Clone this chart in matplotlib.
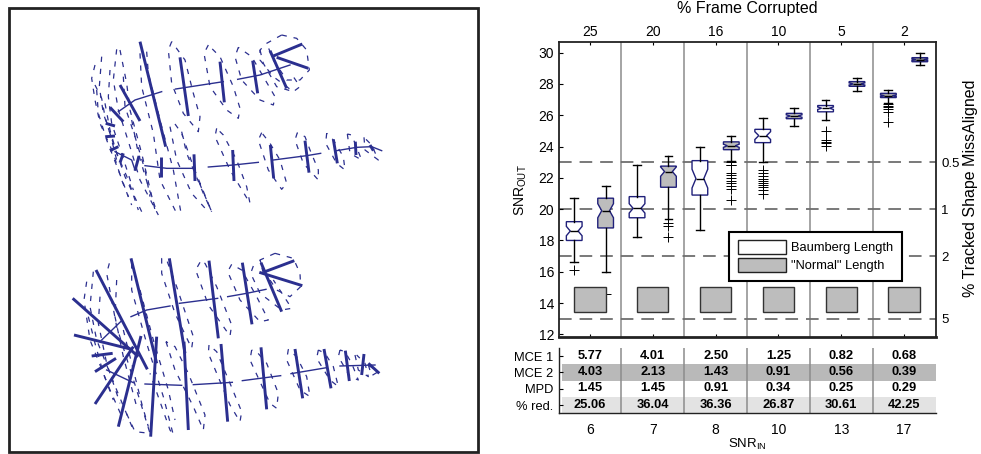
import matplotlib
matplotlib.use('Agg')
import matplotlib.pyplot as plt
from matplotlib.patches import Patch, Rectangle

plt.rcParams['font.family'] = ['Liberation Sans', 'DejaVu Sans']
plt.rcParams['mathtext.default'] = 'regular'

W, H = 981, 454
BLUE = '#2b2f8f'
DARK = '#222222'

# box stats, one per box, left to right
positions = [1, 2, 3, 4, 5, 6, 7, 8, 9, 10, 11, 12]
q1 = [18.0, 18.8, 19.45, 21.4, 20.9, 23.8, 24.25, 25.78, 26.22, 27.85, 27.13, 29.42]
med = [18.6, 19.9, 20.05, 22.4, 21.95, 24.05, 24.7, 25.95, 26.45, 28.0, 27.25, 29.55]
q3 = [19.2, 20.7, 20.8, 22.75, 23.1, 24.3, 25.1, 26.12, 26.62, 28.15, 27.4, 29.68]
whislo = [16.6, 16.0, 18.2, 19.4, 18.65, 23.1, 23.0, 25.3, 25.7, 27.55, 26.8, 29.2]
whishi = [20.7, 21.5, 22.8, 23.4, 24.0, 24.7, 25.8, 26.45, 26.95, 28.4, 27.6, 29.95]
notch_lo = [18.3, 19.45, 19.75, 22.1, 21.35, 23.95, 24.45, 25.87, 26.37, 27.93, 27.2, 29.5]
notch_hi = [18.9, 20.35, 20.35, 22.7, 22.55, 24.15, 24.95, 26.03, 26.53, 28.07, 27.3, 29.6]
fliers = [
    [16.1],
    [14.6],
    [],
    [19.1, 18.9, 18.2],
    [],
    [23.0, 22.8, 22.8, 22.3, 22.2, 22.0, 21.8, 21.7, 21.5, 21.3, 20.6],
    [22.5, 22.3, 22.1, 21.95, 21.8, 21.7, 21.55, 21.4, 21.25, 21.0],
    [],
    [25.0, 24.4, 24.3, 24.2, 24.05],
    [],
    [26.7, 26.6, 26.5, 26.4, 26.2, 25.6],
    [],
]
box_colors = ['white', '#bdbdbd', 'white', '#bdbdbd', 'white', '#bdbdbd',
              'white', '#bdbdbd', 'white', '#a8a8a8', '#a8a8a8', '#888888']

snr_in = ['6', '7', '8', '10', '13', '17']
frame_corrupted = ['25', '20', '16', '10', '5', '2']
group_centers = [1.5, 3.5, 5.5, 7.5, 9.5, 11.5]
group_edges = [2.5, 4.5, 6.5, 8.5, 10.5]
misaligned_pos = [23, 20, 17, 13]
misaligned_labels = ['0.5', '1', '2', '5']

row_labels = ['MCE 1', 'MCE 2', 'MPD', '% red.']
mce1 = ['5.77', '4.01', '2.50', '1.25', '0.82', '0.68']
mce2 = ['4.03', '2.13', '1.43', '0.91', '0.56', '0.39']
mpd = ['1.45', '1.45', '0.91', '0.34', '0.25', '0.29']
red = ['25.06', '36.04', '36.36', '26.87', '30.61', '42.25']

# shape outlines, in the pixels of the two crops (3x)
top_thick = [
    [(240, 65), (317, 380)], [(180, 195), (240, 303)], [(150, 262), (190, 305)],
    [(360, 112), (385, 288)], [(480, 125), (493, 247)], [(578, 122), (593, 220)],
    [(630, 92), (680, 205)], [(640, 108), (727, 72)], [(650, 112), (745, 145)],
    [(303, 412), (303, 472)], [(402, 403), (405, 483)], [(518, 390), (522, 483)],
    [(631, 375), (641, 475)], [(735, 362), (747, 458)], [(820, 358), (832, 430)],
    [(886, 365), (888, 405)], [(930, 375), (940, 392)], [(137, 310), (165, 318)],
    [(138, 350), (165, 348)], [(150, 392), (175, 380)], [(190, 400), (180, 428)],
    [(237, 408), (225, 452)],
]
top_thin = [
    [(175, 275), (225, 240), (305, 215)], [(347, 207), (490, 185)],
    [(533, 178), (600, 165), (690, 135)], [(255, 437), (320, 445), (405, 445)],
    [(445, 441), (520, 435), (595, 427)], [(640, 420), (740, 407), (782, 400)],
    [(830, 392), (890, 382), (935, 380), (965, 392)], [(165, 395), (215, 420), (225, 450)],
]
top_dashed = [
    [(105, 135), (95, 175), (105, 240), (120, 310), (160, 400), (185, 480), (215, 555)],
    [(125, 110), (118, 200), (130, 280), (160, 370), (195, 470), (245, 575)],
    [(150, 150), (145, 230), (155, 310), (185, 400), (220, 510)],
    [(170, 88), (160, 180), (175, 270), (210, 380), (240, 480), (295, 585)],
    [(180, 90), (200, 190), (210, 270), (245, 400), (285, 570)],
    [(240, 100), (245, 200), (280, 340), (300, 480), (350, 580)],
    [(260, 95), (265, 160), (300, 300), (340, 450), (365, 590)],
    [(105, 195), (125, 235), (135, 290), (150, 340), (170, 420)],
    [(110, 210), (115, 280), (140, 360), (175, 450), (205, 530)],
    [(135, 250), (150, 330), (170, 400), (205, 480), (235, 570)],
    [(190, 170), (195, 260), (225, 350), (255, 450), (270, 530)],
    [(215, 300), (235, 400), (265, 500), (290, 575)],
    [(330, 320), (350, 420), (395, 520), (440, 570)],
    [(365, 335), (380, 400), (430, 520), (455, 575)],
    [(335, 65), (325, 90), (335, 190), (370, 280), (415, 335), (420, 290), (400, 220), (375, 120), (335, 65)],
    [(445, 75), (432, 100), (450, 200), (500, 270), (535, 295), (540, 265), (520, 200), (480, 110), (445, 75)],
    [(535, 82), (525, 110), (545, 180), (600, 240), (640, 255), (645, 230), (610, 170), (575, 110), (535, 82)],
    [(600, 90), (610, 130), (650, 200), (700, 215)],
    [(665, 45), (620, 70), (600, 90), (600, 120), (640, 170), (700, 215), (720, 200), (700, 170)],
    [(665, 45), (710, 55), (740, 90), (748, 150), (720, 180), (680, 180), (640, 120), (620, 70)],
    [(345, 312), (365, 340), (400, 440), (455, 575), (440, 540), (410, 470)],
    [(470, 325), (465, 350), (510, 450), (570, 550), (560, 500), (530, 420), (490, 345), (470, 325)],
    [(605, 338), (595, 360), (625, 450), (665, 508), (680, 490), (660, 420), (630, 370), (605, 338)],
    [(712, 338), (705, 360), (730, 430), (775, 480), (775, 450), (750, 390), (735, 350), (712, 338)],
    [(800, 340), (797, 370), (830, 430), (855, 450), (850, 410), (820, 360), (800, 340)],
    [(862, 342), (870, 400), (905, 420), (885, 370), (875, 345), (862, 342)],
    [(912, 352), (915, 390), (955, 420), (935, 375), (912, 352)],
]
bottom_thick = [
    [(108, 120), (262, 418)], [(38, 205), (235, 380)], [(42, 315), (215, 358)],
    [(95, 378), (158, 370)], [(105, 425), (168, 385)], [(105, 522), (220, 350)],
    [(175, 590), (243, 318)], [(213, 85), (290, 400)], [(290, 320), (272, 620)],
    [(328, 85), (375, 370)], [(372, 335), (385, 600)], [(447, 92), (475, 325)],
    [(483, 342), (503, 575)], [(547, 98), (576, 283)], [(603, 98), (665, 245)],
    [(598, 127), (727, 167)], [(615, 125), (703, 92)], [(603, 352), (620, 538)],
    [(705, 357), (728, 505)], [(792, 357), (813, 475)], [(856, 362), (868, 453)],
    [(912, 372), (905, 435)], [(925, 400), (958, 430)],
]
bottom_thin = [
    [(213, 260), (260, 240), (330, 228)], [(358, 220), (473, 205)],
    [(503, 200), (560, 190), (618, 178)], [(125, 330), (185, 272)],
    [(255, 462), (365, 466)], [(400, 464), (517, 457)], [(547, 452), (662, 437)],
    [(693, 431), (800, 413)], [(840, 408), (945, 405)], [(140, 420), (220, 458)],
]
bottom_dashed = [
    [(80, 155), (72, 210), (90, 330), (150, 480), (190, 570)],
    [(100, 125), (90, 230), (110, 330), (170, 480), (220, 600)],
    [(120, 200), (115, 280), (140, 400), (180, 520)],
    [(85, 260), (105, 340), (130, 430), (160, 510)],
    [(148, 100), (140, 130), (170, 290), (230, 480), (270, 610), (225, 605), (190, 530)],
    [(170, 150), (165, 260), (190, 380), (230, 530)],
    [(190, 300), (215, 400), (245, 520), (265, 590)],
    [(215, 100), (215, 180), (260, 340), (310, 500), (340, 615), (330, 600), (270, 430)],
    [(240, 180), (280, 330), (325, 480), (345, 570)],
    [(305, 85), (305, 130), (345, 250), (395, 355), (400, 320), (350, 170), (320, 90), (305, 85)],
    [(318, 335), (345, 420), (400, 530), (430, 600), (435, 555), (385, 430), (345, 350), (318, 335)],
    [(420, 97), (407, 120), (445, 225), (510, 318), (515, 285), (470, 170), (435, 100), (420, 97)],
    [(447, 345), (445, 370), (510, 525), (540, 575), (545, 545), (510, 460), (470, 365), (447, 345)],
    [(515, 103), (503, 125), (540, 210), (600, 275), (625, 270), (590, 200), (545, 120), (515, 103)],
    [(580, 108), (572, 130), (600, 190), (665, 240), (695, 235), (640, 150)],
    [(645, 70), (600, 90), (610, 130)],
    [(645, 70), (700, 85), (720, 130), (722, 170), (690, 200), (650, 180), (610, 120), (600, 90)],
    [(575, 360), (570, 390), (630, 520), (650, 535), (655, 490), (620, 400), (590, 365), (575, 360)],
    [(685, 358), (680, 390), (720, 480), (750, 500), (740, 440), (710, 380), (685, 358)],
    [(775, 360), (770, 385), (810, 450), (835, 470), (820, 410), (795, 370), (775, 360)],
    [(840, 360), (835, 380), (870, 440), (895, 450), (875, 400), (855, 365), (840, 360)],
    [(885, 375), (895, 420), (925, 440), (915, 400), (890, 375)],
    [(925, 405), (935, 437), (955, 425), (925, 405)],
]


def px_axes(fig, left, top, right, bottom):
    return fig.add_axes([left / W, 1 - bottom / H, (right - left) / W, (bottom - top) / H])


def draw_shape(fig, top, thick, thin, dashed):
    # crop of 340x~215 px zoomed 3x, so limits are the crop's own pixels
    a = px_axes(fig, 60, top, 400, top + 215)
    a.set_xlim(0, 1020)
    a.set_ylim(645, 0)
    a.axis('off')
    a.patch.set_alpha(0)
    for seg in dashed:
        a.plot([p[0] for p in seg], [p[1] for p in seg], color=BLUE, lw=0.9,
               dashes=(4.2, 5.5))
    for seg in thin:
        a.plot([p[0] for p in seg], [p[1] for p in seg], color=BLUE, lw=1.0)
    for seg in thick:
        a.plot([p[0] for p in seg], [p[1] for p in seg], color=BLUE, lw=2.1,
               solid_capstyle='butt')


fig = plt.figure(figsize=(W / 100, H / 100), dpi=100)

# left panel frame
fig.add_artist(Rectangle((9 / W, 1 - 452 / H), 469 / W, 444 / H, fill=False,
                         edgecolor=DARK, lw=2, transform=fig.transFigure))
draw_shape(fig, 20, top_thick, top_thin, top_dashed)
draw_shape(fig, 230, bottom_thick, bottom_thin, bottom_dashed)

# boxplot axes
ax = px_axes(fig, 558.5, 41.7, 935.5, 336.7)
ax.set_xlim(0.5, 12.5)
ax.set_ylim(11.85, 30.7)

for e in group_edges:
    ax.axvline(e, color='#8c8c8c', lw=1.1, zorder=1)
for y in misaligned_pos:
    ax.axhline(y, color='#6e6e6e', lw=1.3, dashes=(7, 4.4), zorder=1.5)

stats = []
for i in range(len(positions)):
    stats.append({'q1': q1[i], 'med': med[i], 'q3': q3[i], 'whislo': whislo[i],
                  'whishi': whishi[i], 'cilo': notch_lo[i], 'cihi': notch_hi[i],
                  'fliers': fliers[i]})
bp = ax.bxp(stats, positions=positions, widths=0.5, capwidths=0.25,
            shownotches=True, patch_artist=True, manage_ticks=False,
            boxprops=dict(edgecolor='#20207a', linewidth=1.0),
            medianprops=dict(color='black', linewidth=1.0),
            whiskerprops=dict(color='black', linewidth=1.0, linestyle='-'),
            capprops=dict(color='black', linewidth=1.0),
            flierprops=dict(marker='+', markersize=7.5, markeredgecolor='black',
                            markeredgewidth=0.7), zorder=3)
for b, c in zip(bp['boxes'], box_colors):
    b.set_facecolor(c)

# gray squares along the bottom
for c in group_centers:
    ax.add_patch(Rectangle((c - 0.5, 13.4), 1.0, 1.6, facecolor='#bdbdbd',
                           edgecolor='#333333', lw=1.0, zorder=4))

ax.set_xticks(group_centers)
ax.set_xticklabels(frame_corrupted)
ax.set_yticks(range(12, 31, 2))
ax.tick_params(axis='x', direction='in', top=True, bottom=True, labeltop=True,
               labelbottom=False, length=2.5, width=0.8, labelsize=10, pad=2)
ax.tick_params(axis='y', direction='in', left=True, right=True, length=3, width=0.8,
               labelsize=10, pad=3)
for s in ax.spines.values():
    s.set_linewidth(1.3)
    s.set_color(DARK)
ax.spines['bottom'].set_linewidth(2)

axr = ax.twinx()
axr.set_ylim(ax.get_ylim())
axr.set_yticks(misaligned_pos)
axr.set_yticklabels(misaligned_labels)
axr.tick_params(axis='y', length=0, labelsize=9.5, pad=4)
for s in axr.spines.values():
    s.set_visible(False)

leg = axr.legend(handles=[Patch(facecolor='white', edgecolor='#222222', label='Baumberg Length'),
                          Patch(facecolor='#bdbdbd', edgecolor='#222222', label='"Normal" Length')],
                 loc='lower left',
                 bbox_to_anchor=((729.3 - 558.5) / 377, (336.7 - 280.7) / 295),
                 fontsize=9.3, handlelength=3.75, handleheight=1.25, handletextpad=0.4,
                 labelspacing=0.3, borderpad=0.65, borderaxespad=0, fancybox=False,
                 framealpha=1, edgecolor='black')
leg.get_frame().set_linewidth(1.5)
leg.set_zorder(6)

# table under the boxes
tb = px_axes(fig, 558.5, 348, 935.5, 413.3)
tb.set_xlim(0.5, 12.5)
tb.set_ylim(4, 0)
tb.axhspan(1, 2, xmin=0.0095, color='#b9b9b9', lw=0, zorder=0)
tb.axhspan(3, 4, xmin=0.0095, color='#e3e3e3', lw=0, zorder=0)
for e in group_edges:
    tb.axvline(e, color='#8c8c8c', lw=1.1, zorder=1)
for r, row in enumerate([mce1, mce2, mpd, red]):
    for c, v in zip(group_centers, row):
        tb.text(c, r + 0.48, v, ha='center', va='center', fontsize=9.3, fontweight='bold')
tb.set_yticks([0.5, 1.5, 2.5, 3.5])
tb.set_yticklabels(row_labels)
tb.set_xticks(group_centers)
tb.set_xticklabels(snr_in)
tb.tick_params(axis='y', direction='in', length=3, width=0.8, labelsize=9.3, pad=4)
tb.tick_params(axis='x', length=0, labelsize=10, pad=7)
tb.spines['top'].set_visible(False)
tb.spines['right'].set_visible(False)
tb.spines['left'].set_linewidth(1.0)
tb.spines['bottom'].set_linewidth(1.0)
tb.spines['left'].set_color(DARK)
tb.spines['bottom'].set_color(DARK)

# axis titles
fig.text(747 / W, 1 - 9 / H, '% Frame Corrupted', ha='center', va='center', fontsize=11.5)
fig.text(747 / W, 1 - 444 / H, 'SNR$_{IN}$', ha='center', va='center', fontsize=9.5)
fig.text(521 / W, 1 - 190 / H, 'SNR$_{OUT}$', ha='center', va='center', rotation=90, fontsize=10)
fig.text(971 / W, 1 - 188 / H, '% Tracked Shape MissAligned', ha='center', va='center',
         rotation=90, fontsize=11.5)

fig.savefig('out.png', dpi=100)
